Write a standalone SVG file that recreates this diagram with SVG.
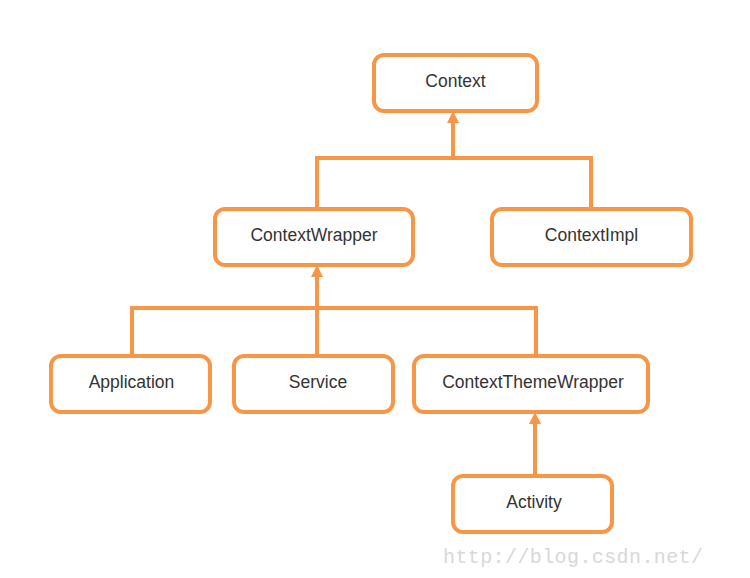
<svg xmlns="http://www.w3.org/2000/svg" width="750" height="578" viewBox="0 0 750 578">
<style>
.box{fill:#fff;stroke:#F79646;stroke-width:4}
.lbl{font-family:"Liberation Sans",Arial,sans-serif;font-size:17.5px;fill:#333;text-anchor:middle}
.ln{fill:none;stroke:#F79646;stroke-width:4}
.hd{fill:#F79646}
</style>
<rect width="750" height="578" fill="#fff"/>
<g id="connectors">
<path class="ln" d="M317 208 V158 H591 V208"/>
<path class="ln" d="M453 158 V120"/>
<polygon class="hd" points="453,111 447,123 459,123"/>
<path class="ln" d="M132 354 V308 H536 V354"/>
<path class="ln" d="M317 354 V274"/>
<polygon class="hd" points="317,265 311,277 323,277"/>
<path class="ln" d="M535 474 V421"/>
<polygon class="hd" points="535,412 529,424 541,424"/>
</g>
<g id="Context"><rect class="box" x="374" y="55" width="163" height="56" rx="10"/><text class="lbl" x="455.5" y="87">Context</text></g>
<g id="ContextWrapper"><rect class="box" x="215" y="209" width="198" height="56" rx="10"/><text class="lbl" x="314" y="241">ContextWrapper</text></g>
<g id="ContextImpl"><rect class="box" x="492" y="209" width="199" height="56" rx="10"/><text class="lbl" x="591.5" y="241">ContextImpl</text></g>
<g id="Application"><rect class="box" x="51" y="356" width="159" height="56" rx="10"/><text class="lbl" x="131.5" y="388">Application</text></g>
<g id="Service"><rect class="box" x="234" y="356" width="159" height="56" rx="10"/><text class="lbl" x="318" y="388">Service</text></g>
<g id="ContextThemeWrapper"><rect class="box" x="414" y="356" width="234" height="56" rx="10"/><text class="lbl" x="533" y="388">ContextThemeWrapper</text></g>
<g id="Activity"><rect class="box" x="453" y="476" width="159" height="56" rx="10"/><text class="lbl" x="534" y="508">Activity</text></g>
<text x="443" y="563" font-family="Liberation Mono,'Courier New',monospace" font-size="20" fill="#d8d8d8" textLength="260">http://blog.csdn.net/</text>
</svg>
